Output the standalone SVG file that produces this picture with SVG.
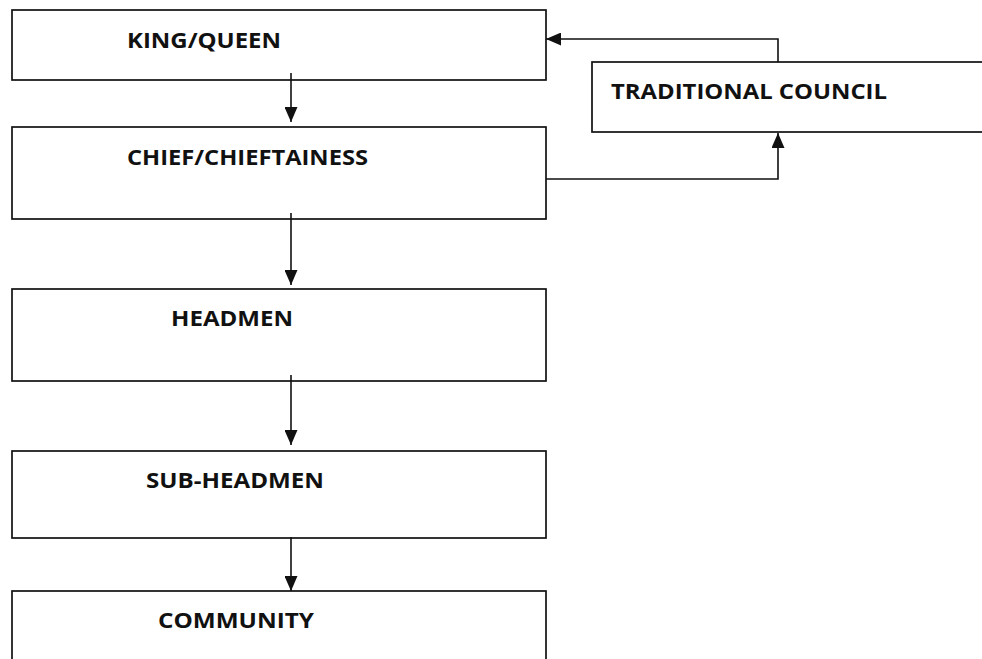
<svg xmlns="http://www.w3.org/2000/svg" width="982" height="659" viewBox="0 0 982 659">
<style>
.box{fill:#fff;stroke:#111;stroke-width:1.7}
.lbl{font-family:"Open Sans","Liberation Sans",sans-serif;font-weight:bold;font-size:21px;fill:#111}
.con{fill:none;stroke:#111;stroke-width:1.6}
</style>
<defs>
<marker id="ah" viewBox="0 0 15 13" refX="15" refY="6.5" markerWidth="15" markerHeight="13" markerUnits="userSpaceOnUse" orient="auto">
<path d="M0,0 L15,6.5 L0,13 Z" fill="#111"/>
</marker>
</defs>
<rect width="982" height="659" fill="#fff"/>
<g id="king">
<rect class="box" x="12" y="10" width="534" height="70"/>
<text class="lbl" x="127" y="48" textLength="154" lengthAdjust="spacingAndGlyphs">KING/QUEEN</text>
</g>
<g id="chief">
<rect class="box" x="12" y="127" width="534" height="92"/>
<text class="lbl" x="127" y="165" textLength="241" lengthAdjust="spacingAndGlyphs">CHIEF/CHIEFTAINESS</text>
</g>
<g id="council">
<rect class="box" x="592" y="62" width="420" height="70"/>
<text class="lbl" x="611" y="99" textLength="276" lengthAdjust="spacingAndGlyphs">TRADITIONAL COUNCIL</text>
</g>
<g id="headmen">
<rect class="box" x="12" y="289" width="534" height="92"/>
<text class="lbl" x="171" y="326" textLength="122" lengthAdjust="spacingAndGlyphs">HEADMEN</text>
</g>
<g id="subheadmen">
<rect class="box" x="12" y="451" width="534" height="87"/>
<text class="lbl" x="146" y="488" textLength="178" lengthAdjust="spacingAndGlyphs">SUB-HEADMEN</text>
</g>
<g id="community">
<rect class="box" x="12" y="591" width="534" height="90"/>
<text class="lbl" x="158" y="628" textLength="156" lengthAdjust="spacingAndGlyphs">COMMUNITY</text>
</g>
<g id="connectors">
<path class="con" d="M291,73 V122" marker-end="url(#ah)"/>
<path class="con" d="M291,213 V285" marker-end="url(#ah)"/>
<path class="con" d="M291,375 V445" marker-end="url(#ah)"/>
<path class="con" d="M291,537 V591" marker-end="url(#ah)"/>
<path class="con" d="M546,179 H778 V133" marker-end="url(#ah)"/>
<path class="con" d="M778,62 V39 H546" marker-end="url(#ah)"/>
</g>
</svg>
